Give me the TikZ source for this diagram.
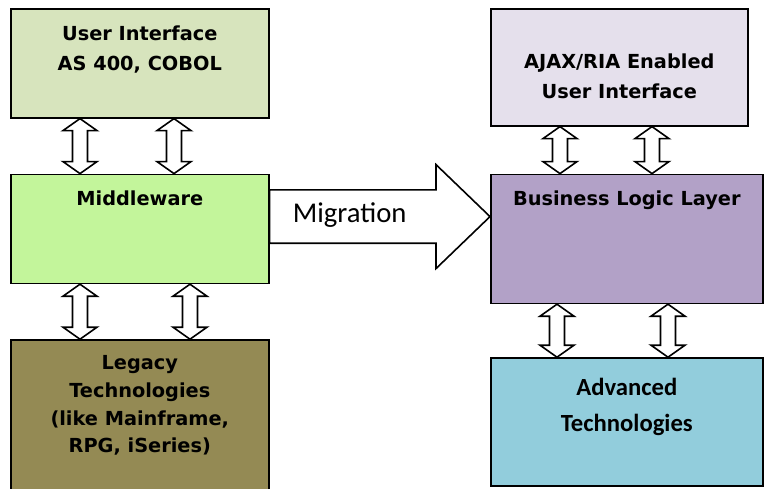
\documentclass[tikz,border=0pt]{standalone}
\usepackage{xcolor}
\usepackage{fontspec}
\setmainfont{DejaVu Sans}
\newfontfamily\calibri{Carlito}
\usetikzlibrary{positioning,calc}

\definecolor{uigreen}{HTML}{D7E4BD}
\definecolor{mwgreen}{HTML}{C3F59B}
\definecolor{legacyolive}{HTML}{948A54}
\definecolor{ajaxlilac}{HTML}{E5E0EC}
\definecolor{blpurple}{HTML}{B2A1C7}
\definecolor{advblue}{HTML}{92CDDC}

% hollow double arrow between two stacked boxes (#3 = offset from left edge)
\newcommand{\updown}[3]{%
  \draw[hollow] let \p1=($(#1.south west)+(#3,0)$), \p2=($(#2.north west)+(#3,0)$) in
    (\x1,\y1) -- (\x1+12.75pt,\y1-9pt) -- (\x1+5.6pt,\y1-9pt) -- (\x1+5.6pt,\y2+9pt)
    -- (\x1+12.75pt,\y2+9pt) -- (\x2,\y2) -- (\x1-12.75pt,\y2+9pt) -- (\x1-5.6pt,\y2+9pt)
    -- (\x1-5.6pt,\y1-9pt) -- (\x1-12.75pt,\y1-9pt) -- cycle;}

\begin{document}
\begin{tikzpicture}[
    x=0.75pt, y=-0.75pt,
    box/.style={rectangle, draw, line width=1.2pt, inner sep=0pt},
    boxfont/.style={font=\fontsize{14.5}{22}\selectfont\bfseries},
    toptext/.style={anchor=north, align=center, inner sep=0pt, label distance=-#1, boxfont},
    hollow/.style={draw, fill=white, line width=1.2pt, line join=miter}
]
\useasboundingbox (0,0) rectangle (764,489);

% Old system
\node[box, fill=uigreen, minimum width=193.5pt, minimum height=81.75pt, anchor=north west,
  label={[name=uitext, toptext=13pt, font=\fontsize{14.5}{22.5}\selectfont\bfseries]north:{User Interface\\AS 400, COBOL}}] (ui) at (10,8) {};
\node[box, fill=mwgreen, minimum width=193.5pt, minimum height=81.75pt, below=41.25pt of ui,
  label={[name=mwtext, toptext=13pt]north:Middleware}] (mw) {};
\node[box, fill=legacyolive, minimum width=193.5pt, minimum height=120pt, below=41.25pt of mw,
  label={[name=legacytext, toptext=12pt, font=\fontsize{14.5}{20.8}\selectfont\bfseries]north:{Legacy\\Technologies\\(like Mainframe,\\RPG, iSeries)}}] (legacy) {};

% New system
\node[box, fill=ajaxlilac, minimum width=192.75pt, minimum height=87.75pt, anchor=north west,
  label={[name=ajaxtext, toptext=34.5pt]north:{AJAX/RIA Enabled\\User Interface}}] (ajax) at (490,8) {};
\node[box, fill=blpurple, minimum width=204pt, minimum height=96.75pt, below=35.25pt of ajax.south west, anchor=north west,
  label={[name=bltext, toptext=13pt]north:Business Logic Layer}] (bl) {};
\node[box, fill=advblue, minimum width=204pt, minimum height=96pt, below=39.75pt of bl,
  label={[name=advtext, toptext=15.5pt, font=\calibri\fontsize{18.5}{27}\selectfont\bfseries]north:{Advanced\\Technologies}}] (adv) {};

% Double arrows
\updown{ui}{mw}{70}
\updown{ui}{mw}{164}
\updown{mw}{legacy}{70}
\updown{mw}{legacy}{180}
\updown{ajax}{bl}{70}
\updown{ajax}{bl}{162}
\updown{bl}{adv}{67}
\updown{bl}{adv}{178}

% Migration arrow
\coordinate (mstart) at ($(mw.north east)+(0,43)$);
\coordinate (mend) at ($(bl.north west)+(0,43)$);
\draw[hollow] let \p1=(mstart), \p2=(mend) in
  (\x1,\y1+20pt) -- (\x2-40.5pt,\y1+20pt) -- (\x2-40.5pt,\y1+39pt) -- (\x2,\y2)
  -- (\x2-40.5pt,\y1-39pt) -- (\x2-40.5pt,\y1-20pt) -- (\x1,\y1-20pt) -- cycle;
\node[font=\calibri\fontsize{21.5}{24}\selectfont] (migtext) at ($(mstart)+(80,-2)$) {Migration};

\end{tikzpicture}
\end{document}
